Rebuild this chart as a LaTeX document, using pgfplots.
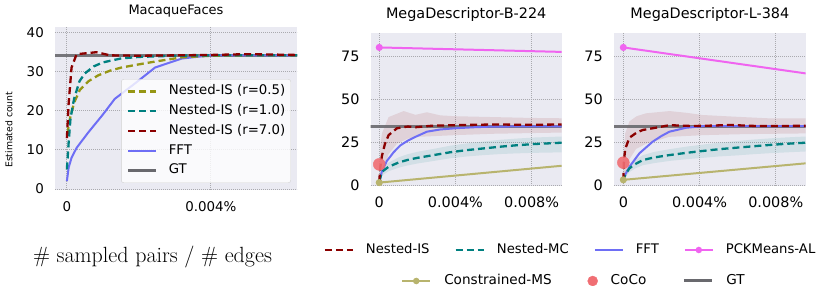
\documentclass[border=0pt]{standalone}
\usepackage{fontspec}
\setsansfont{DejaVu Sans}
\usepackage{pgfplots}
\pgfplotsset{compat=1.18}
\definecolor{bgc}{RGB}{234,234,242}
\definecolor{nisr}{RGB}{139,0,0}
\definecolor{tealc}{RGB}{0,128,128}
\definecolor{olivec}{RGB}{150,150,20}
\definecolor{fftc}{RGB}{110,110,245}
\definecolor{pckc}{RGB}{240,100,240}
\definecolor{cmsc}{RGB}{184,180,110}
\definecolor{cococ}{RGB}{240,110,115}
\definecolor{gtc}{RGB}{105,105,110}
\definecolor{gridc}{RGB}{170,170,175}
\pgfplotsset{
  longline/.style={legend image code/.code={\draw[mark repeat=2,mark phase=2,##1] plot coordinates {(0bp,0bp) (14bp,0bp) (28bp,0bp)};}},
  dsh/.style={line width=2.3bp, dash pattern=on 7bp off 4bp},
  sea/.style={scale only axis, anchor=south west,
    axis background/.style={fill=bgc},
    axis line style={draw=none}, major tick length=0pt,
    grid=major, major grid style={gridc, line width=0.9bp, dash pattern=on 1bp off 1bp},
    yticklabel style={inner sep=0pt, xshift=-11bp},
    longline},
}
\begin{document}
\begin{tikzpicture}[font=\sffamily]
\path[use as bounding box] (0,0) rectangle (823bp,286bp);

% ---------------- Panel 1 ----------------
\begin{axis}[sea, at={(55bp,96bp)}, width=242bp, height=163bp,
  xmin=-0.33, xmax=6.39, ymin=-0.25, ymax=41.33,
  xtick={0,4}, xticklabels={0,0.004\%},
  ytick={0,10,20,30,40}, yticklabels={0,10,20,30,40},
  tick label style={font=\fontsize{13.4bp}{16bp}\selectfont\sffamily},
  xticklabel style={inner sep=0pt, yshift=-11.7bp},
  title={MacaqueFaces},
  title style={font=\fontsize{13bp}{16bp}\selectfont\sffamily, at={(0.5,1)}, anchor=south, inner sep=0pt, yshift=3.2bp},
  ylabel={Estimated count},
  every axis y label/.style={at={(-0.19,0.37)}, rotate=90, anchor=center, font=\fontsize{9.3bp}{11bp}\selectfont\sffamily},
  legend cell align=left,
  legend style={at={(0.975,0.043)}, anchor=south east, fill=white, fill opacity=0.8, text opacity=1,
    draw=black!18, rounded corners=2.5bp, inner sep=5.5bp, row sep=6.5bp,
    font=\fontsize{13.3bp}{16bp}\selectfont\sffamily,
    nodes={inner sep=0pt, text height=10bp, text depth=3.3bp},
    /tikz/every odd column/.append style={column sep=11bp}},
]
\addplot[forget plot, gtc, line width=3bp, opacity=0.9] coordinates {(-1,34.1) (7,34.1)};
\addplot[forget plot, fftc, line width=2bp] coordinates {(0,2) (0.05,5.5) (0.13,8) (0.27,10.5) (0.6,14.5) (1.0,19) (1.33,23) (1.9,27) (2.45,31) (3.2,33.3) (4,34.1) (6.4,34.1)};
\addplot[forget plot, olivec, dsh] coordinates {(0.02,14) (0.06,17) (0.1,18.5) (0.2,22) (0.36,25.3) (0.6,27.5) (0.87,29) (1.2,30.2) (1.52,31) (2,31.8) (2.44,32.5) (3.2,33.6) (4,34) (5,34.1) (6.4,34.1)};
\addplot[forget plot, tealc, dsh] coordinates {(0,5) (0.05,12) (0.1,18) (0.2,23) (0.35,27.5) (0.5,29.5) (0.75,31.3) (1,32.3) (1.5,33.3) (2,33.7) (3,34) (4,34.1) (6.4,34.1)};
\addplot[forget plot, nisr, dsh] coordinates {(0,13) (0.05,22) (0.13,31) (0.27,34.4) (0.5,34.6) (0.82,34.9) (1.2,34.1) (2,34) (3,34.1) (4,34.2) (5,34.4) (6.4,34.2)};
\addlegendimage{olivec, dsh}\addlegendentry{Nested-IS (r=0.5)}
\addlegendimage{tealc, dsh}\addlegendentry{Nested-IS (r=1.0)}
\addlegendimage{nisr, dsh}\addlegendentry{Nested-IS (r=7.0)}
\addlegendimage{fftc, line width=2bp}\addlegendentry{FFT}
\addlegendimage{gtc, line width=3bp}\addlegendentry{GT}
\end{axis}

% ---------------- Panel 2 ----------------
\begin{axis}[sea, at={(370.7bp,100bp)}, width=191bp, height=153bp,
  xmin=-0.45, xmax=9.58, ymin=-0.58, ymax=88.4,
  xtick={0,4,8}, xticklabels={0,0.004\%,0.008\%},
  ytick={0,25,50,75}, yticklabels={0,25,50,75},
  tick label style={font=\fontsize{14.4bp}{17bp}\selectfont\sffamily},
  xticklabel style={inner sep=0pt, yshift=-10.7bp},
  title={MegaDescriptor-B-224},
  title style={font=\fontsize{14.4bp}{17bp}\selectfont\sffamily, at={(0.5,1)}, anchor=south, inner sep=0pt, yshift=5.5bp},
]
\addplot[forget plot, draw=none, fill=nisr, fill opacity=0.1] coordinates {(0,5) (0.05,22) (0.14,30) (0.49,39.5) (1.28,43) (1.9,40.8) (2.5,42.3) (3.2,40.5) (4,40) (6,39.5) (8,39) (9.6,38.8)
  (9.6,30.5) (8,30.2) (6,29.8) (4,29) (2,28) (1.5,27) (0.93,24) (0.49,18) (0.14,5) (0,0)} -- cycle;
\addplot[forget plot, draw=none, fill=tealc, fill opacity=0.1] coordinates {(0,3) (0.14,9.5) (0.49,13) (1,16) (1.46,17.8) (2,19.3) (2.86,21) (3.7,22.8) (4.6,24.2) (5.5,25.3) (6.37,26.3) (7.2,27) (8.1,27.6) (9.6,28.2)
  (9.6,19) (8.1,18.7) (7.2,18.4) (6.37,18) (5.5,17.4) (4.6,16.6) (3.7,15.5) (2.86,14) (2,12.5) (1.46,11.3) (1,10) (0.49,8) (0.14,5.5) (0,1)} -- cycle;
\addplot[forget plot, gtc, line width=3bp, opacity=0.9] coordinates {(-1,34) (10,34)};
\addplot[forget plot, pckc, line width=2bp, mark=*, mark size=2.5bp, mark indices={1}] coordinates {(0,80) (9.6,77.4)};
\addplot[forget plot, cmsc, line width=2bp, mark=*, mark size=2.5bp, mark indices={1}] coordinates {(0,1.4) (9.6,11.2)};
\addplot[forget plot, fftc, line width=2bp] coordinates {(0,1) (0.05,4) (0.14,8) (0.4,14) (0.75,19) (1.1,23) (1.5,25.8) (1.9,28) (2.5,31) (3.2,32.3) (4,33) (5,33.6) (6,34) (9.6,34.1)};
\addplot[forget plot, tealc, dsh] coordinates {(0,2) (0.14,7.7) (0.49,10.6) (1,13) (1.46,14.5) (2,15.8) (2.86,17.4) (3.7,19) (4.6,20.3) (5.5,21.3) (6.37,22.3) (7.2,23.1) (8.1,23.8) (9.6,24.6)};
\addplot[forget plot, nisr, dsh] coordinates {(0,2) (0.05,10) (0.14,17) (0.3,24) (0.49,29) (0.93,33) (1.5,34) (1.9,33.6) (2.8,34.5) (4,34.8) (6,35.2) (8,35) (9.6,35.2)};
\addplot[forget plot, only marks, mark=*, mark size=6bp, cococ, opacity=0.9] coordinates {(0,12)};
\end{axis}

% ---------------- Panel 3 ----------------
\begin{axis}[sea, at={(614bp,100bp)}, width=191.7bp, height=153bp,
  xmin=-0.49, xmax=9.57, ymin=-0.58, ymax=88.4,
  xtick={0,4,8}, xticklabels={0,0.004\%,0.008\%},
  ytick={0,25,50,75}, yticklabels={0,25,50,75},
  tick label style={font=\fontsize{14.4bp}{17bp}\selectfont\sffamily},
  xticklabel style={inner sep=0pt, yshift=-10.7bp},
  title={MegaDescriptor-L-384},
  title style={font=\fontsize{14.4bp}{17bp}\selectfont\sffamily, at={(0.5,1)}, anchor=south, inner sep=0pt, yshift=5.5bp},
]
\addplot[forget plot, draw=none, fill=nisr, fill opacity=0.1] coordinates {(0,5) (0.05,24) (0.1,30) (0.32,37) (0.7,40) (1.19,41.7) (2.42,43) (3.3,42) (4.17,40.7) (5.9,39.7) (7.6,38.8) (9.57,38.8)
  (9.57,30) (8,29.8) (6,29.5) (4.2,29) (2.4,28) (1.2,24) (0.67,21) (0.32,15) (0.1,6) (0,0)} -- cycle;
\addplot[forget plot, draw=none, fill=tealc, fill opacity=0.1] coordinates {(0,3) (0.1,8) (0.32,12) (0.6,14.5) (1.02,17.3) (1.6,19.2) (2.42,20.8) (3.3,22.3) (4.17,23.5) (5,24.6) (5.93,25.5) (6.8,26.4) (7.68,27.1) (8.6,27.7) (9.57,28.2)
  (9.57,19.5) (8.6,19) (7.68,18.5) (6.8,17.9) (5.93,17.2) (5,16.6) (4.17,15.8) (3.3,15) (2.42,14) (1.6,12.7) (1.02,11.5) (0.6,9.5) (0.32,7.5) (0.1,4.5) (0,1)} -- cycle;
\addplot[forget plot, gtc, line width=3bp, opacity=0.9] coordinates {(-1,34) (10,34)};
\addplot[forget plot, pckc, line width=2bp, mark=*, mark size=2.5bp, mark indices={1}] coordinates {(0,80) (9.57,64.9)};
\addplot[forget plot, cmsc, line width=2bp, mark=*, mark size=2.5bp, mark indices={1}] coordinates {(0,3) (9.57,12.6)};
\addplot[forget plot, fftc, line width=2bp] coordinates {(0,2) (0.1,6) (0.32,10.6) (0.84,18.4) (1.54,25.2) (2.0,28.5) (2.42,31) (3.3,33.3) (4.17,34.2) (9.57,34.2)};
\addplot[forget plot, tealc, dsh] coordinates {(0,2) (0.1,6) (0.32,9.7) (0.6,12) (1.02,14.5) (1.6,16) (2.42,17.4) (3.3,18.7) (4.17,19.8) (5,20.8) (5.93,21.7) (6.8,22.5) (7.68,23.3) (8.6,24) (9.57,24.6)};
\addplot[forget plot, nisr, dsh] coordinates {(0,3) (0.03,14) (0.1,21) (0.32,27.5) (0.7,30.5) (1.02,32) (1.8,33.5) (2.42,34.8) (3.6,34.3) (4.5,34.5) (5.6,34.9) (7,34.3) (9.57,34.4)};
\addplot[forget plot, only marks, mark=*, mark size=6bp, cococ, opacity=0.9] coordinates {(0,13)};
\end{axis}

% ---------------- x label ----------------
\node[font=\rmfamily\fontsize{22bp}{26bp}\selectfont, inner sep=0pt] at (152.5bp,29bp) {\# sampled pairs / \# edges};

% ---------------- bottom legends ----------------
\begin{axis}[at={(0bp,0bp)}, anchor=south west, scale only axis, width=823bp, height=286bp,
  hide axis, xmin=0, xmax=1, ymin=0, ymax=1, longline,
  legend columns=4, legend cell align=left,
  legend style={at={(0.6920,0.1259)}, anchor=center, draw=none, fill=none, inner sep=0pt,
    font=\fontsize{13.2bp}{16bp}\selectfont\sffamily,
    nodes={inner sep=0pt, text height=10bp, text depth=3.3bp},
    /tikz/every odd column/.append style={column sep=12bp},
    /tikz/every even column/.append style={column sep=25bp}},
]
\addlegendimage{nisr, dsh}\addlegendentry{Nested-IS}
\addlegendimage{tealc, dsh}\addlegendentry{Nested-MC}
\addlegendimage{fftc, line width=2bp}\addlegendentry{FFT}
\addlegendimage{pckc, line width=2bp, mark=*, mark size=2.2bp}\addlegendentry{PCKMeans-AL}
\end{axis}
\begin{axis}[at={(0bp,0bp)}, anchor=south west, scale only axis, width=823bp, height=286bp,
  hide axis, xmin=0, xmax=1, ymin=0, ymax=1, longline,
  legend columns=3, legend cell align=left,
  legend style={at={(0.6962,0.0175)}, anchor=center, draw=none, fill=none, inner sep=0pt,
    font=\fontsize{13.6bp}{16bp}\selectfont\sffamily,
    nodes={inner sep=0pt, text height=10bp, text depth=3.3bp},
    /tikz/every odd column/.append style={column sep=13bp},
    /tikz/every even column/.append style={column sep=36bp}},
]
\addlegendimage{cmsc, line width=2bp, mark=*, mark size=2.2bp}\addlegendentry{Constrained-MS}
\addlegendimage{only marks, cococ, mark=*, mark size=5bp, longline}\addlegendentry{CoCo}
\addlegendimage{gtc, line width=3bp}\addlegendentry{GT}
\end{axis}
\end{tikzpicture}
\end{document}
